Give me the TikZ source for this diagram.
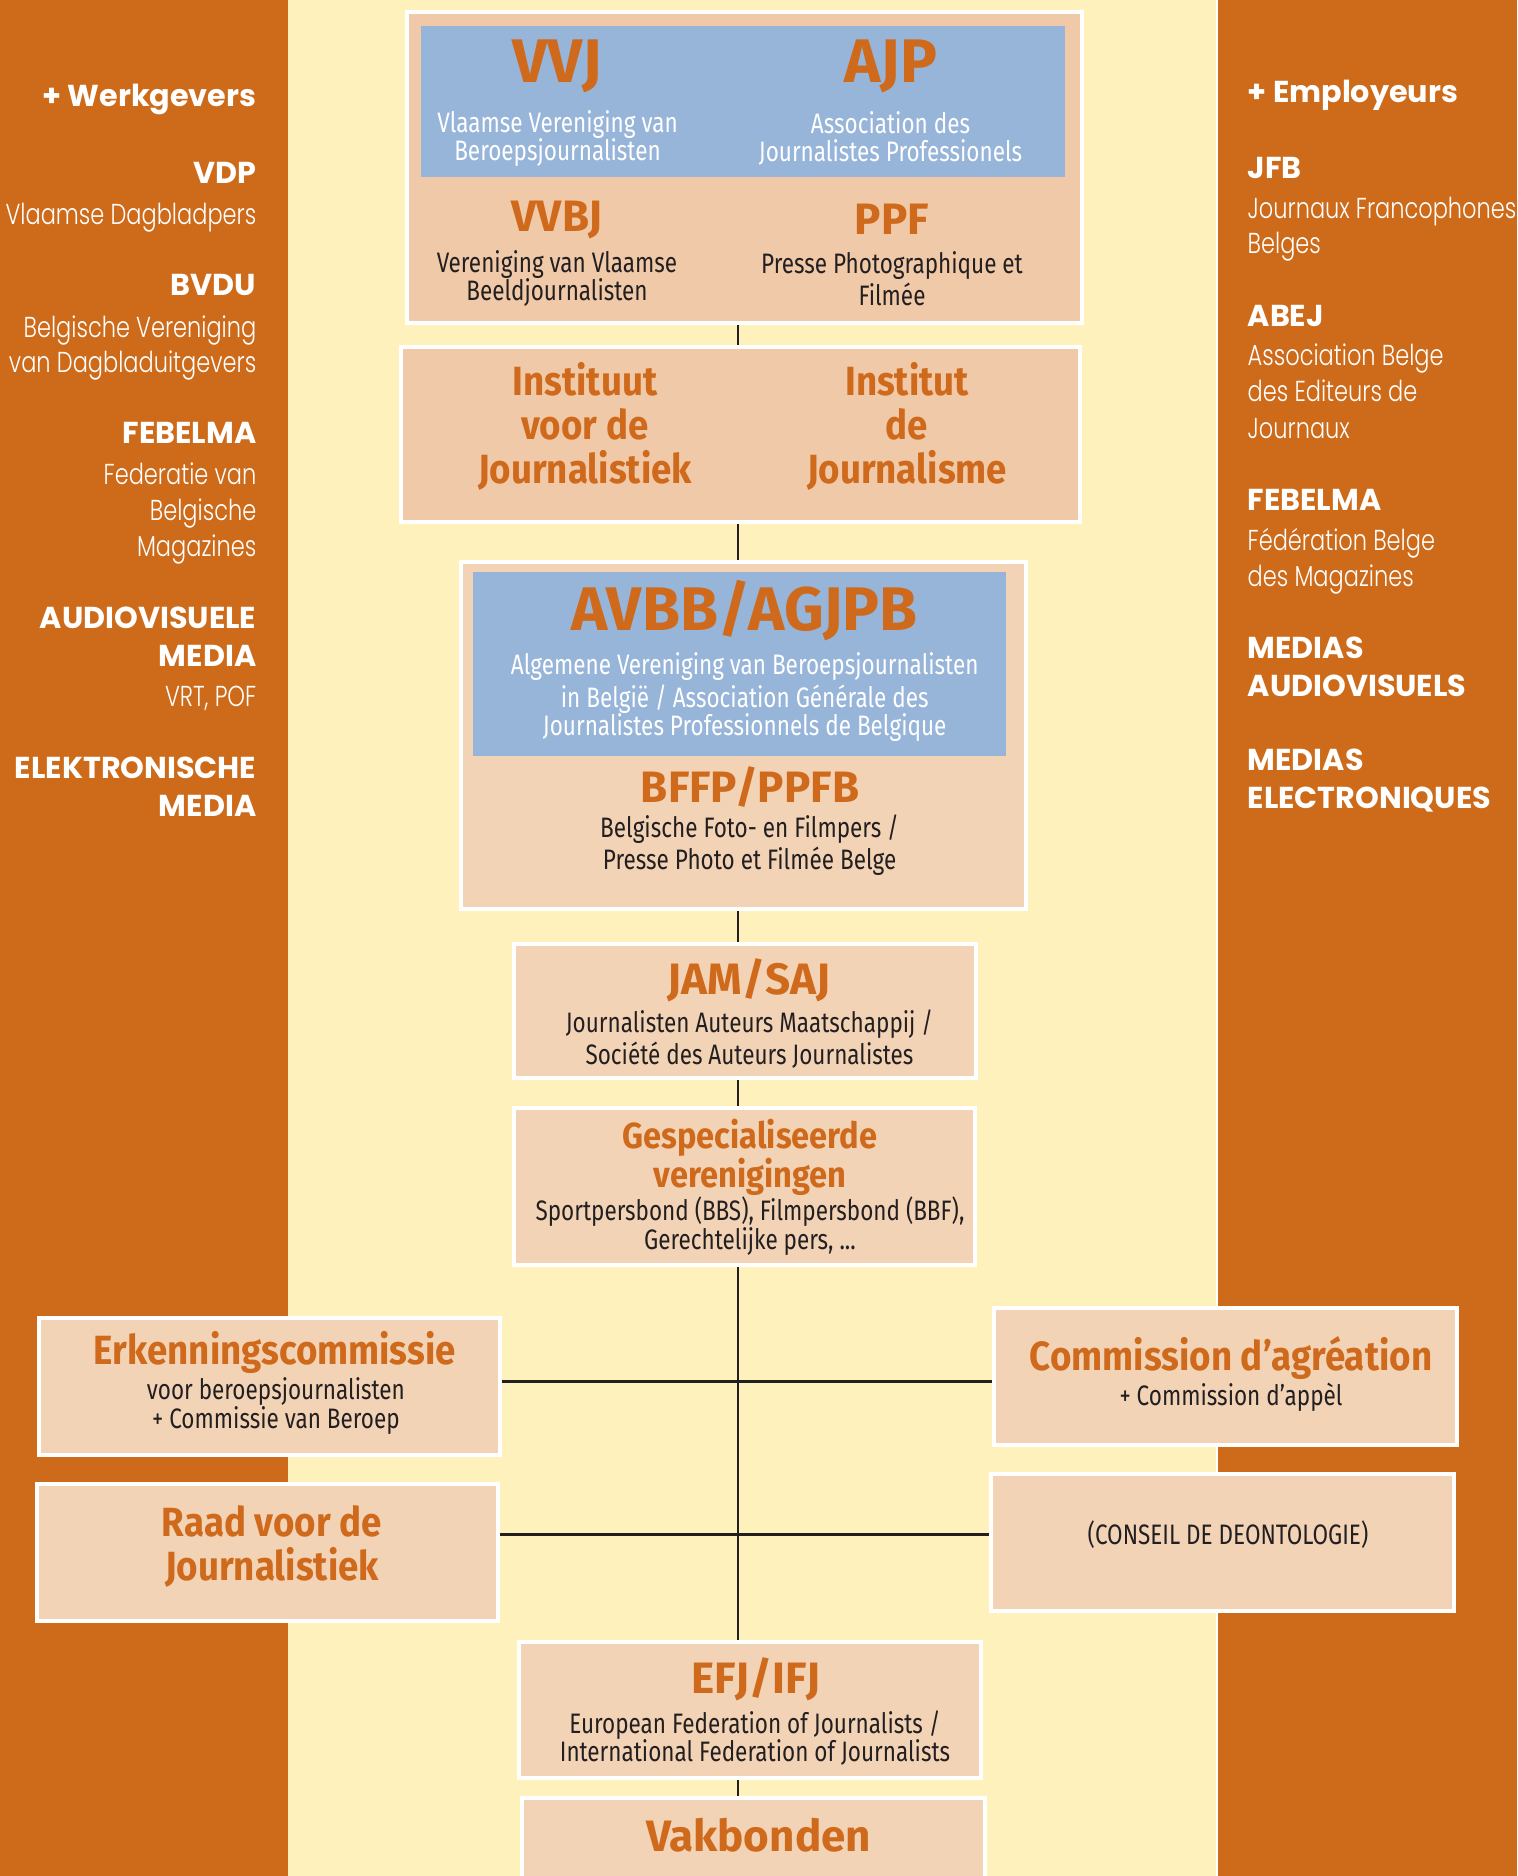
\documentclass[tikz,border=0pt]{standalone}
\usepackage{fontspec}
\usetikzlibrary{positioning}
\setmainfont{Fira Sans}
\newfontfamily\titlefont{Fira Sans}
\newfontfamily\headfont[FakeStretch=0.9]{Fira Sans}
\IfFontExistsTF{Fira Sans Book}
  {\newfontfamily\bodyfont[FakeStretch=0.8]{Fira Sans Book}}
  {\newfontfamily\bodyfont[FakeStretch=0.8]{Fira Sans}}
\newfontfamily\sidebold{Poppins}
\IfFontExistsTF{Poppins Light}
  {\newfontfamily\sidefont[FakeStretch=0.78]{Poppins Light}}
  {\newfontfamily\sidefont[FakeStretch=0.78]{Poppins}}

\definecolor{sideorange}{HTML}{CD6B1A}
\definecolor{cream}{HTML}{FFF1BB}
\definecolor{peach}{HTML}{F0C9A8}
\definecolor{lightpeach}{HTML}{F2D3B6}
\definecolor{skyblue}{HTML}{97B4D9}
\definecolor{titleorange}{HTML}{CF6A1C}
\definecolor{inkdark}{HTML}{231F20}

\tikzset{
  orgbox/.style={draw=white, line width=1pt, fill=lightpeach, inner sep=0pt},
  bluebox/.style={fill=skyblue, inner sep=0pt},
  bigtitle/.style={text=titleorange, inner sep=0pt, font=\titlefont\bfseries\fontsize{17.5}{19}\selectfont},
  midtitle/.style={text=titleorange, inner sep=0pt, align=center, font=\titlefont\bfseries\fontsize{12.5}{12.5}\selectfont},
  boxtitle/.style={text=titleorange, inner sep=0pt, align=center, font=\headfont\bfseries\fontsize{11.6}{12.5}\selectfont},
  subtext/.style={text=inkdark, inner sep=0pt, align=center, font=\bodyfont\fontsize{8}{8.1}\selectfont},
  bluetext/.style={subtext, text=white},
  spine line/.style={draw=inkdark, line width=0.6pt},
  cross line/.style={draw=inkdark, line width=0.85pt},
  sidehead/.style={text=white, inner sep=0pt, font=\sidebold\bfseries\fontsize{8.6}{9}\selectfont},
  sideitem/.style={text=white, inner sep=0pt, font=\sidefont\fontsize{8.2}{9}\selectfont}
}

\begin{document}
\begin{tikzpicture}[x=0.01cm,y=-0.01cm]
	\clip (0,0) rectangle (1517,1876);
	\useasboundingbox (0,0) rectangle (1517,1876);
	% background
	\fill[cream] (0,0) rectangle (1517,1876);
	\fill[sideorange] (0,0) rectangle (288,1876);
	\fill[sideorange] (1217,0) rectangle (1517,1876);
	\draw[white, line width=0.4pt] (1217,0) -- (1217,1876);

	% employers, left and right
	\foreach \yy/\txt in {107/{+ Werkgevers}, 184/VDP, 296/BVDU, 444/FEBELMA, 628/AUDIOVISUELE, 666/MEDIA, 778/ELEKTRONISCHE, 816/MEDIA}
		\node[sidehead, anchor=base east] (lb\yy) at (257,\yy) {\txt};
	\foreach \yy/\txt in {225/Vlaamse Dagbladpers, 338/Belgische Vereniging, 373/van Dagbladuitgevers, 484/Federatie van, 520/Belgische, 556/Magazines, 706/{VRT, POF}}
		\node[sideitem, anchor=base east] (lr\yy) at (257,\yy) {\txt};
	\foreach \yy/\txt in {103/{+ Employeurs}, 179/JFB, 327/ABEJ, 511/FEBELMA, 658/MEDIAS, 696/AUDIOVISUELS, 770/MEDIAS, 808/ELECTRONIQUES}
		\node[sidehead, anchor=base west] (rb\yy) at (1247,\yy) {\txt};
	\foreach \yy/\txt in {219/Journaux Francophones, 254/Belges, 366/Association Belge, 402/des Editeurs de, 439/Journaux, 550/Fédération Belge, 586/des Magazines}
		\node[sideitem, anchor=base west] (rr\yy) at (1247,\yy) {\txt};

	% boxes
	\node[orgbox, fill=peach, minimum width=6.75cm, minimum height=3.11cm] (topbox) at (744.5,167.5) {};
	\node[bluebox, minimum width=6.44cm, minimum height=1.51cm] (blueA) at (743,101.5) {};
	\node[orgbox, fill=peach, minimum width=6.79cm, minimum height=1.75cm] (instbox) at (740.5,434.5) {};
	\node[orgbox, minimum width=5.65cm, minimum height=3.47cm] (avbbbox) at (743.5,735.5) {};
	\node[bluebox, minimum width=5.33cm, minimum height=1.84cm] (blueB) at (739.5,664) {};
	\node[orgbox, minimum width=4.62cm, minimum height=1.34cm] (jambox) at (745,1011) {};
	\node[orgbox, minimum width=4.61cm, minimum height=1.57cm] (gespbox) at (744.5,1186.5) {};
	\node[orgbox, minimum width=4.61cm, minimum height=1.37cm] (erkbox) at (269.5,1386.5) {};
	\node[orgbox, minimum width=4.63cm, minimum height=1.37cm] (combox) at (1225.5,1376.5) {};
	\node[orgbox, minimum width=4.61cm, minimum height=1.37cm] (raadbox) at (267.5,1552.5) {};
	\node[orgbox, minimum width=4.63cm, minimum height=1.37cm] (cdbox) at (1222.5,1542.5) {};
	\node[orgbox, minimum width=4.62cm, minimum height=1.36cm] (efjbox) at (750,1710) {};
	\node[orgbox, minimum width=4.63cm, minimum height=1.10cm] (vakbox) at (753.5,1853) {};

	% connectors
	\coordinate (spine) at (738,0);
	\coordinate (hubA) at (738,1381);
	\coordinate (hubB) at (738,1534);
	\draw[spine line] (topbox.south -| spine) -- (instbox.north -| spine);
	\draw[spine line] (instbox.south -| spine) -- (avbbbox.north -| spine);
	\draw[spine line] (avbbbox.south -| spine) -- (jambox.north -| spine);
	\draw[spine line] (jambox.south -| spine) -- (gespbox.north -| spine);
	\draw[spine line] (gespbox.south -| spine) -- (efjbox.north -| spine);
	\draw[spine line] (efjbox.south -| spine) -- (vakbox.north -| spine);
	\draw[cross line] (erkbox.east |- hubA) -- (combox.west |- hubA);
	\draw[cross line] (raadbox.east |- hubB) -- (cdbox.west |- hubB);

	% texts
	\node[bigtitle] (vvj) at (557.5,66.6) {VVJ};
	\node[bluetext] (vvjsub) at (557.5,138.5) {Vlaamse Vereniging van\\Beroepsjournalisten};
	\node[bigtitle] (ajp) at (891,66.6) {AJP};
	\node[bluetext] (ajpsub) at (890.5,138.5) {Association des\\Journalistes Professionels};
	\node[midtitle] (vvbj) at (557,219.6) {VVBJ};
	\node[subtext] (vvbjsub) at (557,278.5) {Vereniging van Vlaamse\\Beeldjournalisten};
	\node[midtitle] (ppf) at (892,219.6) {PPF};
	\node[subtext] (ppfsub) at (892,278.5) {Presse Photographique et\\Filmée};
	\node[boxtitle] (instnl) at (585,426.7) {Instituut\\voor de\\Journalistiek};
	\node[boxtitle] (instfr) at (907,426.7) {Institut\\de\\Journalisme};
	\node[bigtitle] (avbb) at (744.8,611) {AVBB/AGJPB};
	\node[bluetext] (avbbsub) at (744.7,697.3) {Algemene Vereniging van Beroepsjournalisten\\in België / Association Générale des\\Journalistes Professionnels de Belgique};
	\node[midtitle] (bffp) at (750,787) {BFFP/PPFB};
	\node[subtext] (bffpsub) at (749.6,845) {Belgische Foto- en Filmpers /\\Presse Photo et Filmée Belge};
	\node[midtitle] (jam) at (749,980.5) {JAM/SAJ};
	\node[subtext] (jamsub) at (749.5,1039.5) {Journalisten Auteurs Maatschappij /\\Société des Auteurs Journalistes};
	\node[boxtitle, font=\headfont\bfseries\fontsize{10.3}{11.1}\selectfont] (gesp) at (750,1157.5) {Gespecialiseerde\\verenigingen};
	\node[subtext] (gespsub) at (750,1226) {Sportpersbond (BBS), Filmpersbond (BBF),\\Gerechtelijke pers, ...};
	\node[boxtitle] (erk) at (274.8,1352) {Erkenningscommissie};
	\node[subtext] (erksub) at (275.9,1405.8) {voor beroepsjournalisten\\+ Commissie van Beroep};
	\node[boxtitle] (com) at (1231,1358) {Commission d’agréation};
	\node[subtext] (comsub) at (1231,1397.5) {+ Commission d’appèl};
	\node[boxtitle] (raad) at (272,1546.5) {Raad voor de\\Journalistiek};
	\node[subtext] (cd) at (1228,1535) {(CONSEIL DE DEONTOLOGIE)};
	\node[midtitle] (efj) at (756,1679) {EFJ/IFJ};
	\node[subtext] (efjsub) at (755,1738) {European Federation of Journalists /\\International Federation of Journalists};
	\node[midtitle] (vak) at (758.5,1835) {Vakbonden};
\end{tikzpicture}
\end{document}
